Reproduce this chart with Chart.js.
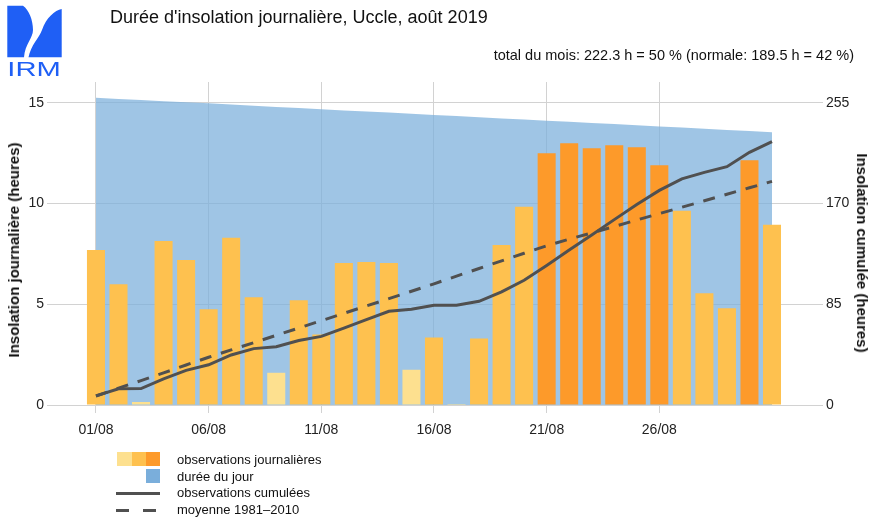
<!DOCTYPE html>
<html>
<head>
<meta charset="utf-8">
<script src="https://cdn.jsdelivr.net/npm/chart.js@4.4.1/dist/chart.umd.min.js"></script>
<style>
  html, body { margin: 0; padding: 0; background: #fff; }
  #wrap { position: relative; width: 869px; height: 520px; overflow: hidden; font-family: 'Liberation Sans', Arial, Helvetica, sans-serif; color: #111; }
  #c { position: absolute; left: 0; top: 0; }
  .abs { position: absolute; white-space: nowrap; }
  #title { left: 110px; top: 7px; font-size: 18px; }
  #subtitle { right: 15px; top: 47px; font-size: 14.5px; }
  .lg-text { left: 177px; font-size: 13px; line-height: 16px; }
  .sw { position: absolute; }
  .ytitle { font-size: 15px; font-weight: bold; line-height: 16px; }
</style>
</head>
<body>
<div id="wrap">
  <canvas id="c" width="869" height="520"></canvas>
  <svg class="abs" style="left:0;top:0" width="70" height="80" viewBox="0 0 70 80">
    <path d="M7.3,5.7 L23,5.7 C29,10 33,20 33,30 C33,38 25,44 24,57.3 L7.3,57.3 Z" fill="#1f5ff5"/>
    <path d="M61.7,9 C55,10 46,18 42,30 C39,38 31,45 28.5,57.3 L61.7,57.3 Z" fill="#1f5ff5"/>
    <text x="7.3" y="75.5" font-family="Liberation Sans, Arial, sans-serif" font-size="21" fill="#1f5ff5" textLength="53.5" lengthAdjust="spacingAndGlyphs">IRM</text>
  </svg>
  <div id="title" class="abs">Durée d'insolation journalière, Uccle, août 2019</div>
  <div id="subtitle" class="abs">total du mois: 222.3 h = 50 % (normale: 189.5 h = 42 %)</div>

  <div class="abs ytitle" style="left:13.5px;top:250px;transform:translate(-50%,-50%) rotate(-90deg)">Insolation journalière (heures)</div>
  <div class="abs ytitle" style="left:862px;top:253px;transform:translate(-50%,-50%) rotate(90deg)">Insolation cumulée (heures)</div>

  <div class="sw" style="left:117px;top:452px;width:14.5px;height:13.5px;background:#FDE08F"></div>
  <div class="sw" style="left:131.5px;top:452px;width:14.5px;height:13.5px;background:#FEC14F"></div>
  <div class="sw" style="left:146px;top:452px;width:14px;height:13.5px;background:#FD9A2A"></div>
  <div class="sw" style="left:146px;top:469px;width:14px;height:13.5px;background:#7AAEDB"></div>
  <div class="sw" style="left:116px;top:491.5px;width:44px;height:3px;background:#505050"></div>
  <div class="sw" style="left:116px;top:508.5px;width:13px;height:3px;background:#505050"></div>
  <div class="sw" style="left:142.5px;top:508.5px;width:13px;height:3px;background:#505050"></div>

  <div class="abs lg-text" style="top:452px">observations journalières</div>
  <div class="abs lg-text" style="top:468.5px">durée du jour</div>
  <div class="abs lg-text" style="top:485px">observations cumulées</div>
  <div class="abs lg-text" style="top:502px">moyenne 1981–2010</div>
</div>
<script>
// ---- data ----
const days = [1,2,3,4,5,6,7,8,9,10,11,12,13,14,15,16,17,18,19,20,21,22,23,24,25,26,27,28,29,30,31];
// daily sunshine duration (hours)
const dailySunshine = [7.7,6.0,0.15,8.15,7.2,4.75,8.3,5.35,1.6,5.2,3.5,7.05,7.1,7.05,1.75,3.35,0.05,3.3,7.95,9.85,12.5,13.0,12.75,12.9,12.8,11.9,9.65,5.55,4.8,12.15,8.95];
// colour class of each daily bar: 0 = low, 1 = medium, 2 = high
const dailyClass = [1,1,0,1,1,1,1,1,0,1,1,1,1,1,0,1,0,1,1,1,2,2,2,2,2,2,1,1,1,2,1];
// day length (hours)
const dayLength = [15.26,15.20,15.15,15.09,15.03,14.98,14.92,14.86,14.80,14.75,14.69,14.63,14.58,14.52,14.46,14.40,14.35,14.29,14.23,14.18,14.12,14.06,14.01,13.95,13.89,13.83,13.78,13.72,13.66,13.61,13.55];
// cumulated observations (hours)
const cumulObs = [7.7,13.7,13.85,22.0,29.2,33.95,42.25,47.6,49.2,54.4,57.9,64.95,72.05,79.1,80.85,84.2,84.25,87.55,95.5,105.35,117.85,130.85,143.6,156.5,169.3,181.2,190.85,196.4,201.2,213.35,222.3];
// cumulated normal 1981-2010 (hours)
const cumulNormal = [7.6,14.2,20.6,27.1,33.8,40.3,46.5,52.6,58.8,65.0,71.2,77.4,83.6,89.8,96.0,102.3,108.8,115.2,121.7,128.1,134.4,140.0,145.3,150.6,156.2,161.6,167.0,172.4,177.9,183.4,188.8];
// axis ticks
const xTickDays = [1,6,11,16,21,26];
const xTickLabels = ['01/08','06/08','11/08','16/08','21/08','26/08'];
const yLeftTicks = [0,5,10,15];
const yRightTicks = [0,85,170,255];

// ---- styling ----
const classColors = ['#FDE08F','#FEC14F','#FD9A2A'];
const FONT = "'Liberation Sans', Arial, Helvetica, sans-serif";
const GRID = '#d2d2d2';
const Y_MAX = 16.04;
const RATIO = 17; // right axis hours per left axis hour (255 / 15)

const pts = (arr) => days.map((d, i) => ({ x: d, y: arr[i] }));

new Chart(document.getElementById('c'), {
  type: 'bar',
  data: {
    datasets: [
      {
        type: 'line', label: 'durée du jour', data: pts(dayLength), yAxisID: 'y',
        fill: 'origin', backgroundColor: 'rgba(122,174,219,0.72)', borderWidth: 0,
        pointRadius: 0, tension: 0, order: 3
      },
      {
        type: 'bar', label: 'observations journalières', data: pts(dailySunshine), yAxisID: 'y',
        backgroundColor: dailyClass.map(c => classColors[c]), borderWidth: 0,
        barPercentage: 1, categoryPercentage: 0.8, order: 2
      },
      {
        type: 'line', label: 'moyenne 1981–2010', data: pts(cumulNormal), yAxisID: 'y2',
        borderColor: '#505050', borderWidth: 3, borderDash: [12, 10], pointRadius: 0,
        fill: false, tension: 0, order: 1
      },
      {
        type: 'line', label: 'observations cumulées', data: pts(cumulObs), yAxisID: 'y2',
        borderColor: '#505050', borderWidth: 3, pointRadius: 0, fill: false, tension: 0, order: 0
      }
    ]
  },
  options: {
    responsive: false,
    animation: false,
    devicePixelRatio: 1,
    layout: { padding: { top: 82, left: 0, right: 0, bottom: 0 } },
    plugins: { legend: { display: false }, tooltip: { enabled: false } },
    scales: {
      x: {
        type: 'linear', position: 'bottom', min: -1.04, max: 33.13, offset: false,
        afterFit: s => { s.height = 115; },
        afterBuildTicks: s => { s.ticks = xTickDays.map(v => ({ value: v })); },
        ticks: {
          autoSkip: false, maxRotation: 0, padding: 9, color: '#222',
          font: { family: FONT, size: 14 },
          callback: (v, i) => xTickLabels[i]
        },
        grid: { color: GRID, lineWidth: 1, tickLength: 8, offset: false },
        border: { display: false }
      },
      y: {
        position: 'left', min: 0, max: Y_MAX,
        afterFit: s => { s.width = 50; },
        afterBuildTicks: s => { s.ticks = yLeftTicks.map(v => ({ value: v })); },
        ticks: { padding: 3, color: '#222', font: { family: FONT, size: 14 } },
        grid: { color: GRID, lineWidth: 1, tickLength: 3 },
        border: { display: false }
      },
      y2: {
        position: 'right', min: 0, max: Y_MAX * RATIO,
        afterFit: s => { s.width = 49; },
        afterBuildTicks: s => { s.ticks = yRightTicks.map(v => ({ value: v })); },
        ticks: { padding: 3, color: '#222', font: { family: FONT, size: 14 } },
        grid: { color: GRID, lineWidth: 1, tickLength: 3, drawOnChartArea: false },
        border: { display: false }
      }
    }
  }
});
</script>
</body>
</html>
